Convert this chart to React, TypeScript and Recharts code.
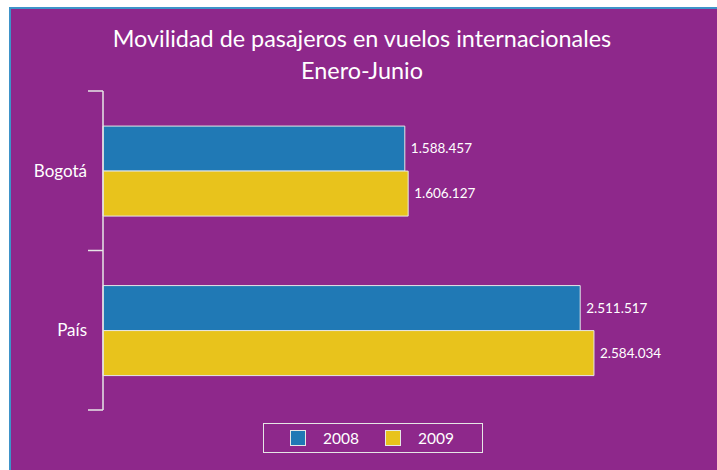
import { BarChart, Bar, XAxis, YAxis, Legend, LabelList } from 'recharts';

const categories = ['Bogotá', 'País'];
const values2008 = [1588457, 2511517];
const values2009 = [1606127, 2584034];
const seriesNames = ['2008', '2009'];
const xDomain = [0, 3000000];

const BG = '#8E288B';
const BLUE = '#2079B5';
const YELLOW = '#E8C31C';
const LINE = '#E6E6E6';
const FONT = 'Lato, "Open Sans", sans-serif';

const data = categories.map((name, i) => ({
  name,
  y2008: values2008[i],
  y2009: values2009[i],
}));

const CHART_W = 717;
const CHART_H = 470;
const MARGIN = { top: 91, right: 44, bottom: 60, left: 3 };
const halfBand = (CHART_H - MARGIN.top - MARGIN.bottom) / categories.length / 2;

// 1588457 -> 1.588.457
const fmt = (v: any) => String(v).replace(/\B(?=(\d{3})+(?!\d))/g, '.');

const CategoryTick = (props: any) => {
  const { x, y, payload, index } = props;
  return (
    <g>
      <line x1={x + 1} x2={x + 16} y1={y - halfBand} y2={y - halfBand} stroke={LINE} strokeWidth={1.5} />
      {index === categories.length - 1 && (
        <line x1={x + 1} x2={x + 16} y1={y + halfBand} y2={y + halfBand} stroke={LINE} strokeWidth={1.5} />
      )}
      <text x={x} y={y} dy={6} textAnchor="end" fill="#fff" fontSize={17} fontFamily={FONT}>
        {payload.value}
      </text>
    </g>
  );
};

const LegendBox = () => (
  <div
    style={{
      width: 218,
      height: 28,
      border: `1px solid ${LINE}`,
      display: 'flex',
      alignItems: 'center',
      fontFamily: FONT,
      fontSize: 15.5,
      color: '#fff',
      boxSizing: 'content-box',
    }}
  >
    {seriesNames.map((s, i) => (
      <div key={s} style={{ display: 'flex', alignItems: 'center', marginLeft: 26 }}>
        <span
          style={{
            display: 'inline-block',
            width: 14,
            height: 14,
            background: i === 0 ? BLUE : YELLOW,
            border: `1px solid ${LINE}`,
          }}
        />
        <span style={{ marginLeft: 17 }}>{s}</span>
      </div>
    ))}
  </div>
);

export default function App() {
  return (
    <div style={{ position: 'fixed', left: 0, top: 0, width: CHART_W, height: CHART_H, background: '#fff', overflow: 'hidden' }}>
      <div
        style={{
          position: 'absolute',
          left: 9,
          top: 7,
          width: 730,
          height: 480,
          background: BG,
          borderTop: '2px solid #3E93C9',
          borderLeft: '2px solid #3E93C9',
        }}
      />
      <div
        style={{
          position: 'absolute',
          left: 0,
          width: 724,
          top: 22,
          textAlign: 'center',
          color: '#fff',
          fontFamily: FONT,
          fontSize: 23.4,
          lineHeight: '32px',
        }}
      >
        Movilidad de pasajeros en vuelos internacionales
        <br />
        Enero-Junio
      </div>
      <div style={{ position: 'absolute', left: 0, top: 0 }}>
        <BarChart
          width={CHART_W}
          height={CHART_H}
          data={data}
          layout="vertical"
          margin={MARGIN}
          barCategoryGap="22%"
          barGap={0}
        >
          <XAxis type="number" domain={xDomain} hide />
          <YAxis
            type="category"
            dataKey="name"
            width={100}
            axisLine={{ stroke: LINE, strokeWidth: 1.5 }}
            tickLine={false}
            tickSize={15}
            tickMargin={1}
            tick={<CategoryTick />}
          />
          <Legend
            content={<LegendBox />}
            layout="horizontal"
            verticalAlign="middle"
            align="center"
            wrapperStyle={{ left: 263, top: 423, width: 'auto', bottom: 'auto' }}
          />
          <Bar dataKey="y2008" name={seriesNames[0]} fill={BLUE} stroke={LINE} strokeWidth={1} isAnimationActive={false}>
            <LabelList dataKey="y2008" position="right" offset={6} fill="#fff" fontSize={13.5} fontFamily={FONT} formatter={fmt} />
          </Bar>
          <Bar dataKey="y2009" name={seriesNames[1]} fill={YELLOW} stroke={LINE} strokeWidth={1} isAnimationActive={false}>
            <LabelList dataKey="y2009" position="right" offset={6} fill="#fff" fontSize={13.5} fontFamily={FONT} formatter={fmt} />
          </Bar>
        </BarChart>
      </div>
    </div>
  );
}
